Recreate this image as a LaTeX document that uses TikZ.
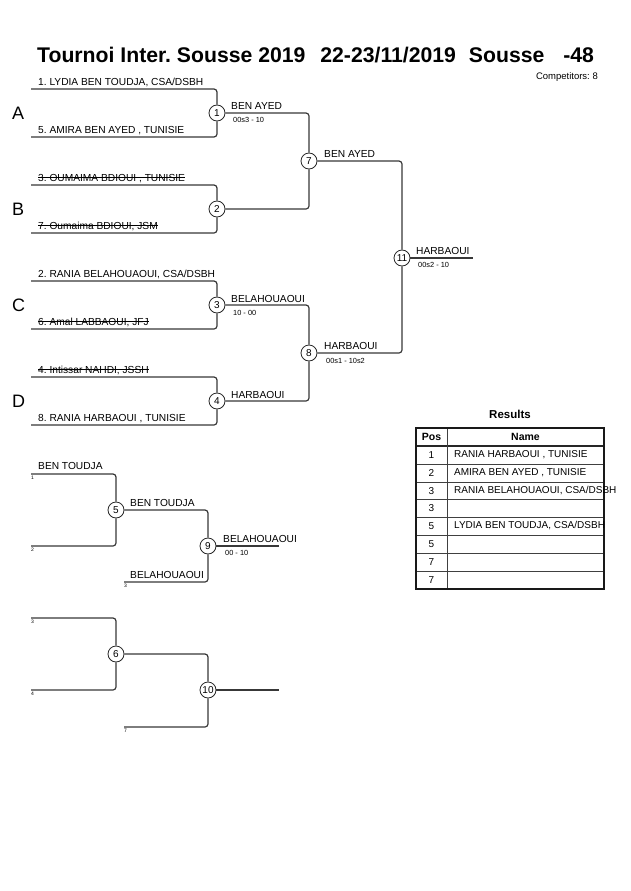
\documentclass[tikz,border=0pt]{standalone}
\usepackage{fontspec}
\setmainfont{Liberation Sans}
\frenchspacing
\newsavebox\strkbox
\newcommand\strk[1]{\sbox\strkbox{#1}\rlap{\rule[3.2pt]{\wd\strkbox}{0.8pt}}\usebox\strkbox}
\begin{document}
\begin{tikzpicture}[x=1pt,y=-1pt,
  conn/.style={draw=black!78, line width=1.2pt, rounded corners=3pt},
  circ/.style={circle, draw=black!85, line width=0.8pt, fill=white, minimum size=16pt, inner sep=0pt, font=\fontsize{10}{10}\selectfont},
  entry/.style={anchor=base west, inner sep=0pt, font=\fontsize{10.2}{11}\selectfont},
  score/.style={anchor=base west, inner sep=0pt, font=\fontsize{7.4}{8}\selectfont},
  tinyno/.style={anchor=north west, inner sep=0pt, font=\fontsize{5}{5}\selectfont},
  pool/.style={anchor=base west, inner sep=0pt, font=\fontsize{18}{20}\selectfont},
  cell/.style={inner sep=0pt, font=\fontsize{10}{11}\selectfont},
  hcell/.style={inner sep=0pt, font=\bfseries\fontsize{10.5}{11}\selectfont}]
\useasboundingbox (0,0) rectangle (630,891);
% title
\node[anchor=base west, inner sep=0pt, font=\bfseries\fontsize{21.2}{24}\selectfont] (title) at (37,63) {Tournoi Inter. Sousse 2019\hspace{15pt}22-23/11/2019\hspace{13pt}Sousse\hspace{19pt}-48};
\node[anchor=base east, inner sep=0pt, font=\fontsize{9.5}{10}\selectfont] (comp) at (598,79) {Competitors: 8};
% pools
\node[pool] (pA) at (12,119) {A};
\node[pool] (pB) at (12,215) {B};
\node[pool] (pC) at (12,311) {C};
\node[pool] (pD) at (12,407) {D};
% entries
\coordinate (e1) at (31,89);
\coordinate (e5) at (31,137);
\coordinate (e3) at (31,185);
\coordinate (e7) at (31,233);
\coordinate (e2) at (31,281);
\coordinate (e6) at (31,329);
\coordinate (e4) at (31,377);
\coordinate (e8) at (31,425);
\node[entry] (t1) at (38,85) {1. LYDIA BEN TOUDJA, CSA/DSBH};
\node[entry] (t5) at (38,133) {5. AMIRA BEN AYED , TUNISIE};
\node[entry] (t3) at (38,181) {\strk{3. OUMAIMA BDIOUI , TUNISIE}};
\node[entry] (t7) at (38,229) {\strk{7. Oumaima BDIOUI, JSM}};
\node[entry] (t2) at (38,277) {2. RANIA BELAHOUAOUI, CSA/DSBH};
\node[entry] (t6) at (38,325) {\strk{6. Amal LABBAOUI, JFJ}};
\node[entry] (t4) at (38,373) {\strk{4. Intissar NAHDI, JSSH}};
\node[entry] (t8) at (38,421) {8. RANIA HARBAOUI , TUNISIE};
% matches
\node[circ] (m1) at (217,113) {1};
\node[circ] (m2) at (217,209) {2};
\node[circ] (m3) at (217,305) {3};
\node[circ] (m4) at (217,401) {4};
\node[circ] (m7) at (309,161) {7};
\node[circ] (m8) at (309,353) {8};
\node[circ] (m11) at (402,258) {11};
\coordinate (w11) at (473,258);
\draw[conn] (e1) -| (m1.north);
\draw[conn] (e5) -| (m1.south);
\draw[conn] (e3) -| (m2.north);
\draw[conn] (e7) -| (m2.south);
\draw[conn] (e2) -| (m3.north);
\draw[conn] (e6) -| (m3.south);
\draw[conn] (e4) -| (m4.north);
\draw[conn] (e8) -| (m4.south);
\draw[conn] (m1.east) -| (m7.north);
\draw[conn] (m2.east) -| (m7.south);
\draw[conn] (m3.east) -| (m8.north);
\draw[conn] (m4.east) -| (m8.south);
\draw[conn] (m7.east) -| (m11.north);
\draw[conn] (m8.east) -| (m11.south);
\draw[conn] (m11.east) -- (w11);
% winner labels
\node[entry] (l1) at (231,109) {BEN AYED};
\node[score] (s1) at (233,122) {00s3 - 10};
\node[entry] (l3) at (231,302) {BELAHOUAOUI};
\node[score] (s3) at (233,315) {10 - 00};
\node[entry] (l4) at (231,398) {HARBAOUI};
\node[entry] (l7) at (324,157) {BEN AYED};
\node[entry] (l8) at (324,349) {HARBAOUI};
\node[score] (s8) at (326,363) {00s1 - 10s2};
\node[entry] (l11) at (416,254) {HARBAOUI};
\node[score] (s11) at (418,267) {00s2 - 10};
% repechage 1
\coordinate (r1) at (31,474);
\coordinate (r2) at (31,546);
\coordinate (r3) at (124,582);
\coordinate (w9) at (279,546);
\node[circ] (m5) at (116,510) {5};
\node[circ] (m9) at (208,546) {9};
\draw[conn] (r1) -| (m5.north);
\draw[conn] (r2) -| (m5.south);
\draw[conn] (m5.east) -| (m9.north);
\draw[conn] (r3) -| (m9.south);
\draw[conn] (m9.east) -- (w9);
\node[tinyno] (n1) at (31,475.5) {1};
\node[tinyno] (n2) at (31,547.5) {2};
\node[tinyno] (n3) at (124,583.5) {3};
\node[entry] (rl1) at (38,469) {BEN TOUDJA};
\node[entry] (rl5) at (130,506) {BEN TOUDJA};
\node[entry] (rl3) at (130,578) {BELAHOUAOUI};
\node[entry] (rl9) at (223,542) {BELAHOUAOUI};
\node[score] (rs9) at (225,555) {00 - 10};
% repechage 2
\coordinate (q1) at (31,618);
\coordinate (q2) at (31,690);
\coordinate (q3) at (124,727);
\coordinate (w10) at (279,690);
\node[circ] (m6) at (116,654) {6};
\node[circ] (m10) at (208,690) {10};
\draw[conn] (q1) -| (m6.north);
\draw[conn] (q2) -| (m6.south);
\draw[conn] (m6.east) -| (m10.north);
\draw[conn] (q3) -| (m10.south);
\draw[conn] (m10.east) -- (w10);
\node[tinyno] (n4) at (31,619.5) {3};
\node[tinyno] (n5) at (31,691.5) {4};
\node[tinyno] (n6) at (124,728.5) {7};
% results table
\node[inner sep=0pt, font=\bfseries\fontsize{11.5}{12}\selectfont] (res) at (510,414) {Results};
\foreach \y in {464,482,499.5,517,535,553,571}
  \draw[black!75, line width=0.8pt] (416,\y) -- (604,\y);
\draw[black!85, line width=1.4pt] (416,446) -- (604,446);
\draw[black!75, line width=0.8pt] (447,428) -- (447,589);
\draw[black!90, line width=1.5pt] (416,428) rectangle (604,589);
\node[hcell] (hpos) at (431.5,437) {Pos};
\node[hcell] (hname) at (525.5,437) {Name};
\node[cell] (p1) at (431.5,455) {1};
\node[cell] (p2) at (431.5,473) {2};
\node[cell] (p3) at (431.5,491) {3};
\node[cell] (p4) at (431.5,508) {3};
\node[cell] (p5) at (431.5,526) {5};
\node[cell] (p6) at (431.5,544) {5};
\node[cell] (p7) at (431.5,562) {7};
\node[cell] (p8) at (431.5,580) {7};
\node[cell, anchor=west] (nm1) at (454,455) {RANIA HARBAOUI , TUNISIE};
\node[cell, anchor=west] (nm2) at (454,473) {AMIRA BEN AYED , TUNISIE};
\node[cell, anchor=west] (nm3) at (454,491) {RANIA BELAHOUAOUI, CSA/DSBH};
\node[cell, anchor=west] (nm5) at (454,526) {LYDIA BEN TOUDJA, CSA/DSBH};
\end{tikzpicture}
\end{document}
